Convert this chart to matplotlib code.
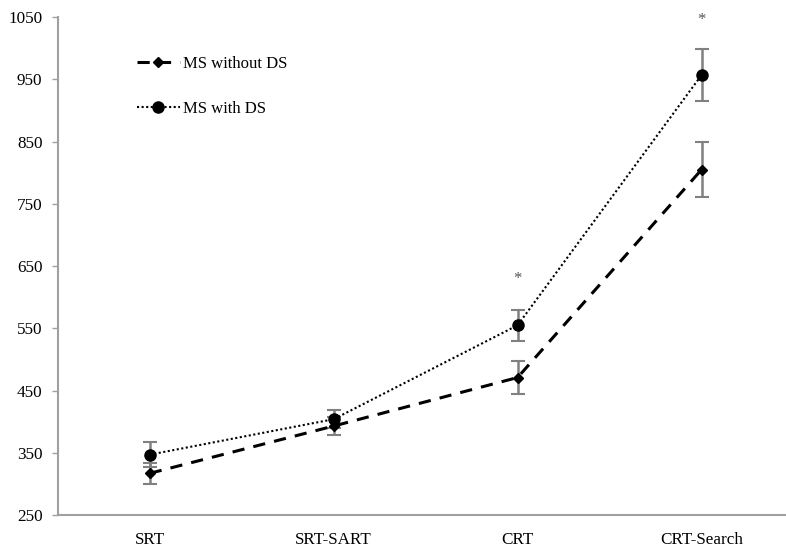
import numpy as np
import matplotlib
matplotlib.use("Agg")
import matplotlib.pyplot as plt

plt.rcParams['font.family'] = ['Liberation Serif', 'DejaVu Serif']

tasks = ['SRT', 'SRT-SART', 'CRT', 'CRT-Search']
without_ds = [317, 393, 471, 805]
without_ds_err = [17, 15, 26, 44]
with_ds = [347, 404, 555, 957]
with_ds_err = [20, 14, 25, 42]
# significant differences marked with an asterisk
star_pos = [2, 3]
star_y = [630, 1045]

x = np.arange(len(tasks)) + 0.5

fig = plt.figure(figsize=(7.86, 5.5), dpi=100)
ax = fig.add_axes([0.0735, 0.0636, 0.936, 0.905])

ax.errorbar(x, without_ds, yerr=without_ds_err, fmt='none', ecolor='#808080',
            elinewidth=1.8, capsize=5, capthick=1.5, zorder=2)
ax.errorbar(x, with_ds, yerr=with_ds_err, fmt='none', ecolor='#808080',
            elinewidth=1.8, capsize=5, capthick=1.5, zorder=2)

ax.plot(x, without_ds, color='black', linestyle=(0, (4, 3)), linewidth=2.2,
        marker='D', markersize=5.5, label='MS without DS', zorder=3)
ax.plot(x, with_ds, color='black', linestyle=(0, (1, 1.2)), linewidth=1.5,
        marker='o', markersize=8, label='MS with DS', zorder=3)

for i, yy in zip(star_pos, star_y):
    ax.text(x[i], yy, '*', ha='center', va='center', fontsize=12, color='#555555')

ax.set_xlim(0, 4)
ax.set_ylim(250, 1050)
ax.set_yticks(np.arange(250, 1051, 100))
ax.set_xticks(x)
ax.set_xticklabels(tasks)
ax.tick_params(axis='x', length=0, pad=12, labelsize=12.3)
ax.tick_params(axis='y', length=4, width=1, color='#a0a0a0', labelsize=12.3, pad=7)

for side in ['top', 'right']:
    ax.spines[side].set_visible(False)
for side in ['left', 'bottom']:
    ax.spines[side].set_color('#a0a0a0')
    ax.spines[side].set_linewidth(1.5)

ax.legend(loc='upper left', bbox_to_anchor=(0.087, 0.952), frameon=False,
          fontsize=12, labelspacing=1.75, handlelength=2.6, handletextpad=0.2)

fig.savefig('out.png', dpi=100)
